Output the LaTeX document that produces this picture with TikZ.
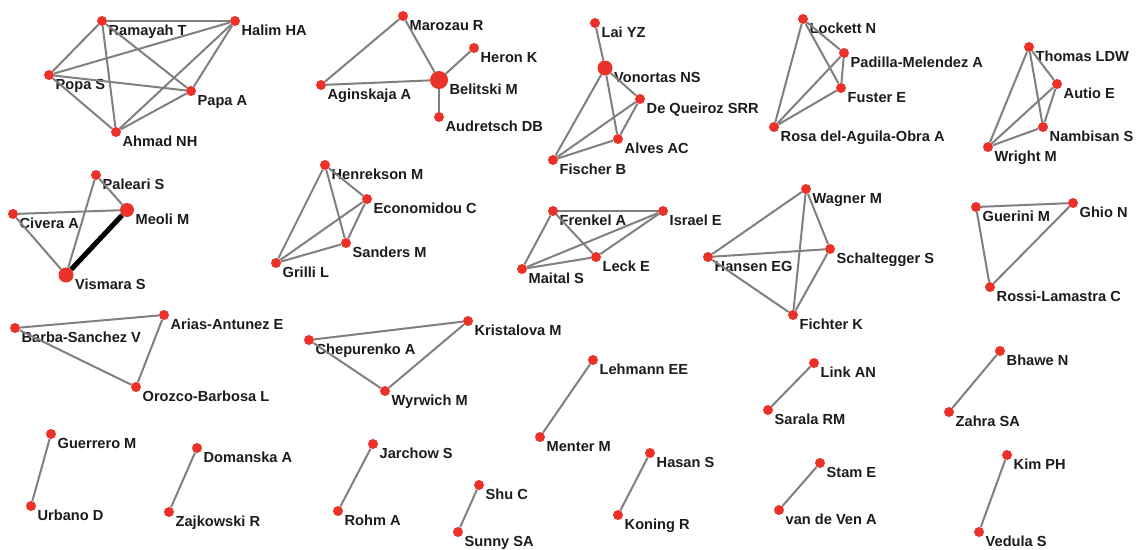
\documentclass[tikz,border=0pt]{standalone}
\usepackage{fontspec}
\setmainfont{Liberation Sans}
\definecolor{dotred}{RGB}{234,50,42}
\definecolor{edgegray}{RGB}{128,128,128}
\definecolor{txt}{RGB}{28,28,28}
\newcommand{\au}[5][10]{%
  \node[dot,minimum size=#1pt] (#2) at (#3,#4) {};
  \node[lab] (#2-l) at ({#3+#1/2+1.5},{#4+14.5}) {#5};}
\begin{document}
\begin{tikzpicture}[x=1pt,y=-1pt,
  dot/.style={circle,fill=dotred,draw=none,inner sep=0pt},
  lab/.style={anchor=base west,inner sep=0pt,font=\fontsize{14.6}{16}\selectfont\bfseries,text=txt},
  edge/.style={draw=edgegray,line width=2pt},
  heavy/.style={draw=black,line width=5pt}]
\fill[white] (0,0) rectangle (1137,549);
\useasboundingbox (0,0) rectangle (1137,549);

% group 1
\au{rama}{102}{21}{Ramayah T}
\au{halim}{235}{21}{Halim HA}
\au{popa}{49}{75}{Popa S}
\au{papa}{191}{91}{Papa A}
\au{ahmad}{116}{132}{Ahmad NH}
% group 2
\au{marozau}{403}{16}{Marozau R}
\au{heron}{474}{48}{Heron K}
\au{aginskaja}{321}{85}{Aginskaja A}
\au[18]{belitski}{439}{80}{Belitski M}
\au{audretsch}{439}{117}{Audretsch DB}
% group 3
\au{lai}{595}{23}{Lai YZ}
\au[15]{vonortas}{605}{68}{Vonortas NS}
\au{dequeiroz}{640}{99}{De Queiroz SRR}
\au{alves}{618}{139}{Alves AC}
\au{fischer}{553}{160}{Fischer B}
% group 4
\au{lockett}{803}{19}{Lockett N}
\au{padilla}{844}{53}{Padilla-Melendez A}
\au{fuster}{841}{88}{Fuster E}
\au{rosa}{774}{127}{Rosa del-Aguila-Obra A}
% group 5
\au{thomas}{1029}{47}{Thomas LDW}
\au{autio}{1057}{84}{Autio E}
\au{nambisan}{1043}{127}{Nambisan S}
\au{wright}{988}{147}{Wright M}
% group 6
\au{paleari}{96}{175}{Paleari S}
\au{civera}{13}{214}{Civera A}
\au[14]{meoli}{127}{210}{Meoli M}
\au[15]{vismara}{66}{275}{Vismara S}
% group 7
\au{henrekson}{325}{165}{Henrekson M}
\au{economidou}{367}{199}{Economidou C}
\au{sanders}{346}{243}{Sanders M}
\au{grilli}{276}{263}{Grilli L}
% group 8
\au{frenkel}{553}{211}{Frenkel A}
\au{israel}{663}{211}{Israel E}
\au{leck}{596}{257}{Leck E}
\au{maital}{522}{269}{Maital S}
% group 9
\au{wagner}{806}{189}{Wagner M}
\au{schaltegger}{830}{249}{Schaltegger S}
\au{fichter}{793}{315}{Fichter K}
\au{hansen}{708}{257}{Hansen EG}
% group 10
\au{guerini}{976}{207}{Guerini M}
\au{ghio}{1073}{203}{Ghio N}
\au{rossi}{990}{287}{Rossi-Lamastra C}
% group 11
\au{barba}{15}{328}{Barba-Sanchez V}
\au{arias}{164}{315}{Arias-Antunez E}
\au{orozco}{136}{387}{Orozco-Barbosa L}
% group 12
\au{chepurenko}{309}{340}{Chepurenko A}
\au{kristalova}{468}{321}{Kristalova M}
\au{wyrwich}{385}{391}{Wyrwich M}
% pairs
\au{lehmann}{593}{360}{Lehmann EE}
\au{menter}{540}{437}{Menter M}
\au{link}{814}{363}{Link AN}
\au{sarala}{768}{410}{Sarala RM}
\au{bhawe}{1000}{351}{Bhawe N}
\au{zahra}{949}{412}{Zahra SA}
\au{guerrero}{51}{434}{Guerrero M}
\au{urbano}{31}{506}{Urbano D}
\au{domanska}{197}{448}{Domanska A}
\au{zajkowski}{169}{512}{Zajkowski R}
\au{jarchow}{373}{444}{Jarchow S}
\au{rohm}{338}{511}{Rohm A}
\au{shu}{479}{485}{Shu C}
\au{sunny}{458}{532}{Sunny SA}
\au{hasan}{650}{453}{Hasan S}
\au{koning}{618}{515}{Koning R}
\au{stam}{820}{463}{Stam E}
\au{vandeven}{779}{510}{van de Ven A}
\au{kim}{1007}{455}{Kim PH}
\au{vedula}{979}{532}{Vedula S}

\foreach \a/\b in {rama/halim,rama/popa,rama/papa,rama/ahmad,halim/popa,halim/papa,halim/ahmad,popa/papa,popa/ahmad,papa/ahmad,
  marozau/aginskaja,marozau/belitski,aginskaja/belitski,belitski/heron,belitski/audretsch,
  lai/vonortas,vonortas/dequeiroz,vonortas/alves,vonortas/fischer,dequeiroz/alves,dequeiroz/fischer,alves/fischer,
  lockett/padilla,lockett/fuster,lockett/rosa,padilla/fuster,padilla/rosa,fuster/rosa,
  thomas/autio,thomas/nambisan,thomas/wright,autio/nambisan,autio/wright,nambisan/wright,
  paleari/meoli,paleari/vismara,civera/meoli,civera/vismara,
  henrekson/economidou,henrekson/sanders,henrekson/grilli,economidou/sanders,economidou/grilli,sanders/grilli,
  frenkel/israel,frenkel/leck,frenkel/maital,israel/leck,israel/maital,leck/maital,
  wagner/hansen,wagner/schaltegger,wagner/fichter,hansen/schaltegger,hansen/fichter,schaltegger/fichter,
  guerini/ghio,guerini/rossi,ghio/rossi,
  barba/arias,barba/orozco,arias/orozco,
  chepurenko/kristalova,chepurenko/wyrwich,kristalova/wyrwich,
  lehmann/menter,link/sarala,bhawe/zahra,guerrero/urbano,domanska/zajkowski,jarchow/rohm,shu/sunny,hasan/koning,stam/vandeven,kim/vedula}
  \draw[edge] (\a) -- (\b);
\draw[heavy] (meoli) -- (vismara);
\end{tikzpicture}
\end{document}
